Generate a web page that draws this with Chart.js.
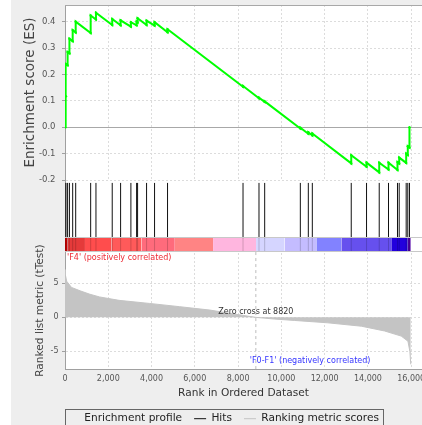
<!DOCTYPE html>
<html>
<head>
<meta charset="utf-8">
<script src="https://cdn.jsdelivr.net/npm/chart.js@4"></script>
<style>
  html, body { margin: 0; padding: 0; background: #fff; }
  #wrap { position: relative; width: 422px; height: 425px; overflow: hidden; }
  #wrap canvas { position: absolute; left: 0; top: 0; }
</style>
</head>
<body>
<div id="wrap"><canvas id="gsea" width="472" height="434"></canvas></div>
<script>
// positions of the gene set members in the ranked list
var hitRanks = [0, 46, 120, 205, 355, 494, 1186, 1431, 2183, 2570, 3046, 3309, 3355, 3770, 4139, 4739,
  8228, 8966, 9229, 10877, 11246, 11431, 13230, 13937, 14523, 14952, 15367, 15446, 15769, 15843, 15921];

// running enrichment score (value before and after each hit)
var esRanks = [0, 0, 46, 46, 120, 120, 205, 205, 355, 355, 494, 494, 1186, 1186, 1431, 1431,
  2183, 2183, 2570, 2570, 3046, 3046, 3309, 3309, 3355, 3355, 3770, 3770, 4139, 4139, 4739, 4739,
  8228, 8228, 8966, 8966, 9229, 9229, 10877, 10877, 11246, 11246, 11431, 11431, 13230, 13230,
  13937, 13937, 14523, 14523, 14952, 14952, 15367, 15367, 15446, 15446, 15769, 15769, 15843, 15843,
  15921, 15921];
var esScores = [0, 0.12, 0.117, 0.24, 0.235, 0.285, 0.28, 0.335, 0.326, 0.368, 0.359, 0.40, 0.357, 0.423, 0.408, 0.434,
  0.387, 0.41, 0.386, 0.405, 0.381, 0.398, 0.386, 0.40, 0.397, 0.413, 0.387, 0.404, 0.385, 0.398, 0.36, 0.371,
  0.153, 0.156, 0.11, 0.112, 0.096, 0.098, -0.005, -0.002, -0.025, -0.019, -0.031, -0.024, -0.137, -0.106,
  -0.15, -0.134, -0.171, -0.134, -0.16, -0.134, -0.162, -0.132, -0.137, -0.115, -0.135, -0.1, -0.105, -0.072,
  -0.077, 0.0];

// ranked list metric (tTest)
var metricRanks = [0, 20, 80, 300, 700, 1150, 1600, 2500, 3900, 5300, 6700, 7800, 8820,
  9700, 10600, 12150, 13700, 14770, 15540, 15850, 15940, 15980];
var metricValues = [7.0, 6.2, 5.3, 4.4, 3.9, 3.4, 3.0, 2.5, 2.05, 1.57, 1.07, 0.5, 0,
  -0.25, -0.45, -0.8, -1.3, -2.0, -2.75, -3.5, -5.0, -6.9];
var zeroCross = 8820;

// colour band along the ranked list
var bandEdges = [0, 106, 923, 2155, 3540, 5077, 6845, 8830, 10150, 11615, 12770, 15077, 15843, 15980];
var bandColors = ['#cc0000', '#e53a3a', '#ff4d4d', '#ff5a5a', '#ff6b7c', '#ff8484', '#ffb6df',
  '#d5d5ff', '#c4bcff', '#8282ff', '#6650ee', '#2200dd', '#5200a8'];

var rankTicks = [0, 2000, 4000, 6000, 8000, 10000, 12000, 14000, 16000];
var esTicks = [-0.2, -0.1, 0, 0.1, 0.2, 0.3, 0.4];
var metricTicks = [-5, 0, 5];

var FONT = 'DejaVu Sans';
var BAR_TOP = 0.194, HIT_TOP = 0.96;
var METRIC_MIN = -7.6, METRIC_MAX = 9.6;
Chart.defaults.font.family = FONT;

var datasets = [];
datasets.push({
  label: 'Enrichment profile',
  data: esRanks.map(function (r, i) { return { x: r, y: esScores[i] }; }),
  yAxisID: 'yES',
  borderColor: '#00ff00',
  backgroundColor: '#00ff00',
  borderWidth: 2,
  pointRadius: 1.2,
  pointBorderWidth: 0,
  tension: 0
});

var hitPts = [];
hitRanks.forEach(function (r) {
  hitPts.push({ x: r, y: 0 }, { x: r, y: BAR_TOP }, { x: r, y: HIT_TOP }, { x: r, y: null });
});
datasets.push({
  label: 'Hits',
  data: hitPts,
  yAxisID: 'yHits',
  borderColor: '#111111',
  backgroundColor: '#111111',
  borderWidth: 1,
  pointRadius: 0,
  spanGaps: false,
  segment: {
    borderColor: function (c) { return c.p1.parsed.y <= BAR_TOP ? 'rgba(0,0,0,0.18)' : '#111111'; }
  }
});

datasets.push({
  label: 'Ranking metric scores',
  data: metricRanks.map(function (r, i) { return { x: r, y: metricValues[i] }; }),
  yAxisID: 'yMetric',
  borderColor: '#c4c4c4',
  backgroundColor: '#c4c4c4',
  borderWidth: 1,
  pointRadius: 0,
  fill: 'origin'
});

datasets.push({
  label: 'zero cross',
  data: [{ x: zeroCross, y: METRIC_MAX }, { x: zeroCross, y: METRIC_MIN }],
  yAxisID: 'yMetric',
  borderColor: '#bdbdbd',
  borderWidth: 1,
  borderDash: [3, 3],
  pointRadius: 0
});

bandColors.forEach(function (c, i) {
  datasets.push({
    label: 'band',
    data: [{ x: bandEdges[i], y: BAR_TOP }, { x: bandEdges[i + 1], y: BAR_TOP }],
    yAxisID: 'yHits',
    borderWidth: 0,
    pointRadius: 0,
    fill: 'origin',
    backgroundColor: c
  });
});

function fixedTicks(list) {
  return function (s) { s.ticks = list.map(function (v) { return { value: v }; }); };
}
// y axes sit in a 41px column after the 24px left padding, so the plot starts at x=65
function leftWidth(s) {
  s.width = 41;
  s.paddingTop = 0;
  s.paddingBottom = 0;
}
function gridDash(c) { return (c.tick && c.tick.value === 0 && c.scale.id === 'yES') ? [] : [2, 2]; }

var gseaDecor = {
  id: 'gseaDecor',
  beforeDraw: function (chart) {
    var ctx = chart.ctx, a = chart.chartArea;
    ctx.save();
    ctx.fillStyle = '#ffffff';
    ctx.fillRect(0, 0, chart.width, chart.height);
    ctx.fillStyle = '#eeeeee';
    ctx.fillRect(11, 0, chart.width - 11, chart.height);
    ctx.fillStyle = '#ffffff';
    ctx.fillRect(a.left, a.top, a.right - a.left, a.bottom - a.top);
    ctx.restore();
  },
  beforeDatasetsDraw: function (chart) {
    var ctx = chart.ctx, a = chart.chartArea, h = chart.scales.yHits;
    ctx.save();
    ctx.fillStyle = '#ffffff';
    ctx.fillRect(a.left + 1, h.top + 1, a.right - a.left, h.bottom - h.top - 1);
    ctx.restore();
  },
  afterDatasetsDraw: function (chart) {
    var ctx = chart.ctx, a = chart.chartArea;
    var x = chart.scales.x, h = chart.scales.yHits, m = chart.scales.yMetric;
    ctx.save();
    ctx.strokeStyle = '#c8c8c8';
    ctx.lineWidth = 1;
    var yb = Math.round(h.getPixelForValue(BAR_TOP)) - 0.5;
    var yb2 = Math.round(h.bottom) - 0.5;
    ctx.beginPath();
    ctx.moveTo(a.left, yb); ctx.lineTo(a.right, yb);
    ctx.moveTo(a.left, yb2); ctx.lineTo(a.right, yb2);
    ctx.stroke();
    ctx.strokeStyle = '#a8a8a8';
    ctx.beginPath();
    ctx.moveTo(a.left, a.top + 0.5); ctx.lineTo(a.right, a.top + 0.5);
    ctx.stroke();

    ctx.font = '8px "' + FONT + '"';
    ctx.textBaseline = 'middle';
    ctx.textAlign = 'left';
    ctx.fillStyle = '#ee2b36';
    ctx.fillText("'F4' (positively correlated)", a.left + 2, h.bottom + 6);
    ctx.textAlign = 'center';
    ctx.fillStyle = '#3535ff';
    ctx.fillText("'F0-F1' (negatively correlated)", x.getPixelForValue(11330), m.bottom - 8);
    ctx.fillStyle = '#333333';
    ctx.fillText('Zero cross at ' + zeroCross, x.getPixelForValue(zeroCross), m.getPixelForValue(0) - 5.5);
    ctx.restore();
  },
  afterDraw: function (chart) {
    var ctx = chart.ctx, hb = chart.legend.legendHitBoxes;
    if (!hb || !hb.length) return;
    var last = hb[hb.length - 1];
    var l = Math.round(hb[0].left - 2), r = Math.round(last.left + last.width + 4);
    var t = Math.round(hb[0].top + hb[0].height / 2 - 10);
    ctx.save();
    ctx.strokeStyle = '#666666';
    ctx.lineWidth = 1;
    ctx.strokeRect(l + 0.5, t + 0.5, r - l, 40);
    ctx.restore();
  }
};

new Chart(document.getElementById('gsea'), {
  type: 'line',
  data: { datasets: datasets },
  plugins: [gseaDecor],
  options: {
    responsive: false,
    animation: false,
    layout: { padding: { top: 5, left: 24, right: 50, bottom: 0 } },
    plugins: {
      tooltip: { enabled: false },
      legend: {
        position: 'bottom',
        align: 'center',
        labels: {
          font: { family: FONT, size: 10.6 },
          color: '#222222',
          usePointStyle: true,
          pointStyle: 'line',
          pointStyleWidth: 12,
          padding: 12,
          filter: function (item) { return item.datasetIndex < 3; }
        }
      }
    },
    scales: {
      x: {
        type: 'linear',
        min: 0,
        max: 16500,
        afterBuildTicks: fixedTicks(rankTicks),
        ticks: {
          font: { size: 8 },
          color: '#555555',
          padding: 5,
          maxRotation: 0,
          callback: function (v) { return v.toLocaleString('en-US'); }
        },
        grid: { color: '#dcdcdc', drawTicks: false },
        border: { color: '#a0a0a0', dash: [2, 2] },
        title: {
          display: true,
          text: 'Rank in Ordered Dataset',
          font: { size: 10.6 },
          color: '#333333',
          padding: { top: -2, bottom: 2 }
        }
      },
      yES: {
        type: 'linear',
        position: 'left',
        stack: 'gsea',
        stackWeight: 175,
        weight: 3,
        min: -0.2,
        max: 0.463,
        afterBuildTicks: fixedTicks(esTicks),
        afterFit: leftWidth,
        ticks: {
          font: { size: 8.5 },
          color: '#555555',
          padding: 6.5,
          callback: function (v) { return v.toFixed(1); }
        },
        grid: {
          color: function (c) { return c.tick && c.tick.value === 0 ? '#a8a8a8' : '#dcdcdc'; },
          tickLength: 3,
          tickColor: '#a0a0a0'
        },
        border: { color: '#a0a0a0', dash: gridDash },
        title: {
          display: true,
          text: 'Enrichment score (ES)',
          font: { size: 13.5 },
          color: '#444444',
          padding: { top: -2, bottom: 0 }
        }
      },
      yHits: {
        type: 'linear',
        position: 'left',
        stack: 'gsea',
        stackWeight: 72,
        weight: 2,
        min: 0,
        max: 1,
        afterFit: leftWidth,
        ticks: { display: false },
        grid: { display: false, drawTicks: false },
        border: { color: '#a0a0a0' }
      },
      yMetric: {
        type: 'linear',
        position: 'left',
        stack: 'gsea',
        stackWeight: 117,
        weight: 1,
        min: METRIC_MIN,
        max: METRIC_MAX,
        afterBuildTicks: fixedTicks(metricTicks),
        afterFit: leftWidth,
        ticks: { font: { size: 8 }, color: '#555555', padding: 3.5 },
        grid: { color: '#dcdcdc', tickLength: 3, tickColor: '#a0a0a0' },
        border: { color: '#a0a0a0', dash: gridDash },
        title: {
          display: true,
          text: 'Ranked list metric (tTest)',
          font: { size: 10.6 },
          color: '#444444',
          padding: { top: 9.6, bottom: 0 }
        }
      }
    }
  }
});
</script>
</body>
</html>
